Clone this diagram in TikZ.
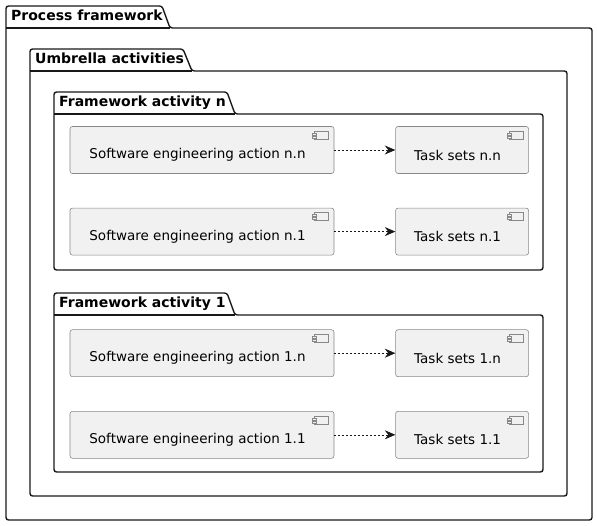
\documentclass[tikz,border=0pt]{standalone}
\usepackage{fontspec}
\setmainfont{DejaVu Sans}
\usetikzlibrary{positioning, arrows.meta}
\definecolor{compfill}{HTML}{F1F1F1}
\definecolor{compline}{HTML}{888888}
\definecolor{umlblack}{HTML}{181818}

\begin{document}
\begin{tikzpicture}[x=1pt, y=-1pt, font=\fontsize{13.5}{16}\selectfont,
    pkg/.style={draw=umlblack, line width=1.4pt, rounded corners=2.5pt},
    pkgtitle/.style={anchor=base west, inner sep=0pt, font=\bfseries\fontsize{14}{16}\selectfont},
    comp/.style={draw=compline, fill=compfill, line width=0.6pt, rounded corners=2.5pt, minimum height=47pt, inner sep=0pt},
    action/.style={comp, minimum width=264pt},
    taskset/.style={comp, minimum width=133pt},
    dep/.style={draw=umlblack, line width=0.6pt, dash pattern=on 2pt off 2pt, -{Stealth[length=10.5pt, width=9pt, inset=3.5pt]}}]
      \useasboundingbox (0,0) rectangle (597,526);

      % packages
      \draw[pkg] (6,520) -- (6,6) -- (162,6) -- (170,28) -- (592,28) -- (592,520) -- cycle;
      \draw[pkg] (6,28) -- (170,28);
      \node[pkgtitle] (tprocess) at (11,21) {Process framework};

      \draw[pkg] (30,496) -- (30,49) -- (183,49) -- (192,71) -- (567,71) -- (567,496) -- cycle;
      \draw[pkg] (30,71) -- (192,71);
      \node[pkgtitle] (tumbrella) at (35,64) {Umbrella activities};

      \draw[pkg] (54,270) -- (54,92) -- (227,92) -- (235,114) -- (543,114) -- (543,270) -- cycle;
      \draw[pkg] (54,114) -- (235,114);
      \node[pkgtitle] (tfan) at (59,107) {Framework activity n};

      \draw[pkg] (54,472) -- (54,293) -- (227,293) -- (235,315) -- (543,315) -- (543,472) -- cycle;
      \draw[pkg] (54,315) -- (235,315);
      \node[pkgtitle] (tfa1) at (59,308) {Framework activity 1};

      % components
      \node[action, label={[xshift=-4.5pt, yshift=-5pt]center:Software engineering action n.n}] (ann) at (202,150) {};
      \node[taskset, right=61pt of ann, label={[xshift=-4.5pt, yshift=-5pt]center:Task sets n.n}] (tnn) {};
      \node[action, below=34pt of ann, label={[xshift=-4.5pt, yshift=-5pt]center:Software engineering action n.1}] (an1) {};
      \node[taskset, right=61pt of an1, label={[xshift=-4.5pt, yshift=-5pt]center:Task sets n.1}] (tn1) {};
      \node[action, below=74pt of an1, label={[xshift=-4.5pt, yshift=-5pt]center:Software engineering action 1.n}] (a1n) {};
      \node[taskset, right=61pt of a1n, label={[xshift=-4.5pt, yshift=-5pt]center:Task sets 1.n}] (t1n) {};
      \node[action, below=34pt of a1n, label={[xshift=-4.5pt, yshift=-5pt]center:Software engineering action 1.1}] (a11) {};
      \node[taskset, right=61pt of a11, label={[xshift=-4.5pt, yshift=-5pt]center:Task sets 1.1}] (t11) {};

      % component icons
      \foreach \c in {ann, tnn, an1, tn1, a1n, t1n, a11, t11} {
        \draw[compline, line width=0.6pt] ([xshift=-20pt, yshift=-5pt]\c.north east) rectangle ++(14,8);
        \draw[compline, fill=compfill, line width=0.6pt] ([xshift=-22pt, yshift=-7pt]\c.north east) rectangle ++(4,2);
        \draw[compline, fill=compfill, line width=0.6pt] ([xshift=-22pt, yshift=-10pt]\c.north east) rectangle ++(4,2);
      }

      \draw[dep] (ann) -- (tnn);
      \draw[dep] (an1) -- (tn1);
      \draw[dep] (a1n) -- (t1n);
      \draw[dep] (a11) -- (t11);
\end{tikzpicture}
\end{document}
